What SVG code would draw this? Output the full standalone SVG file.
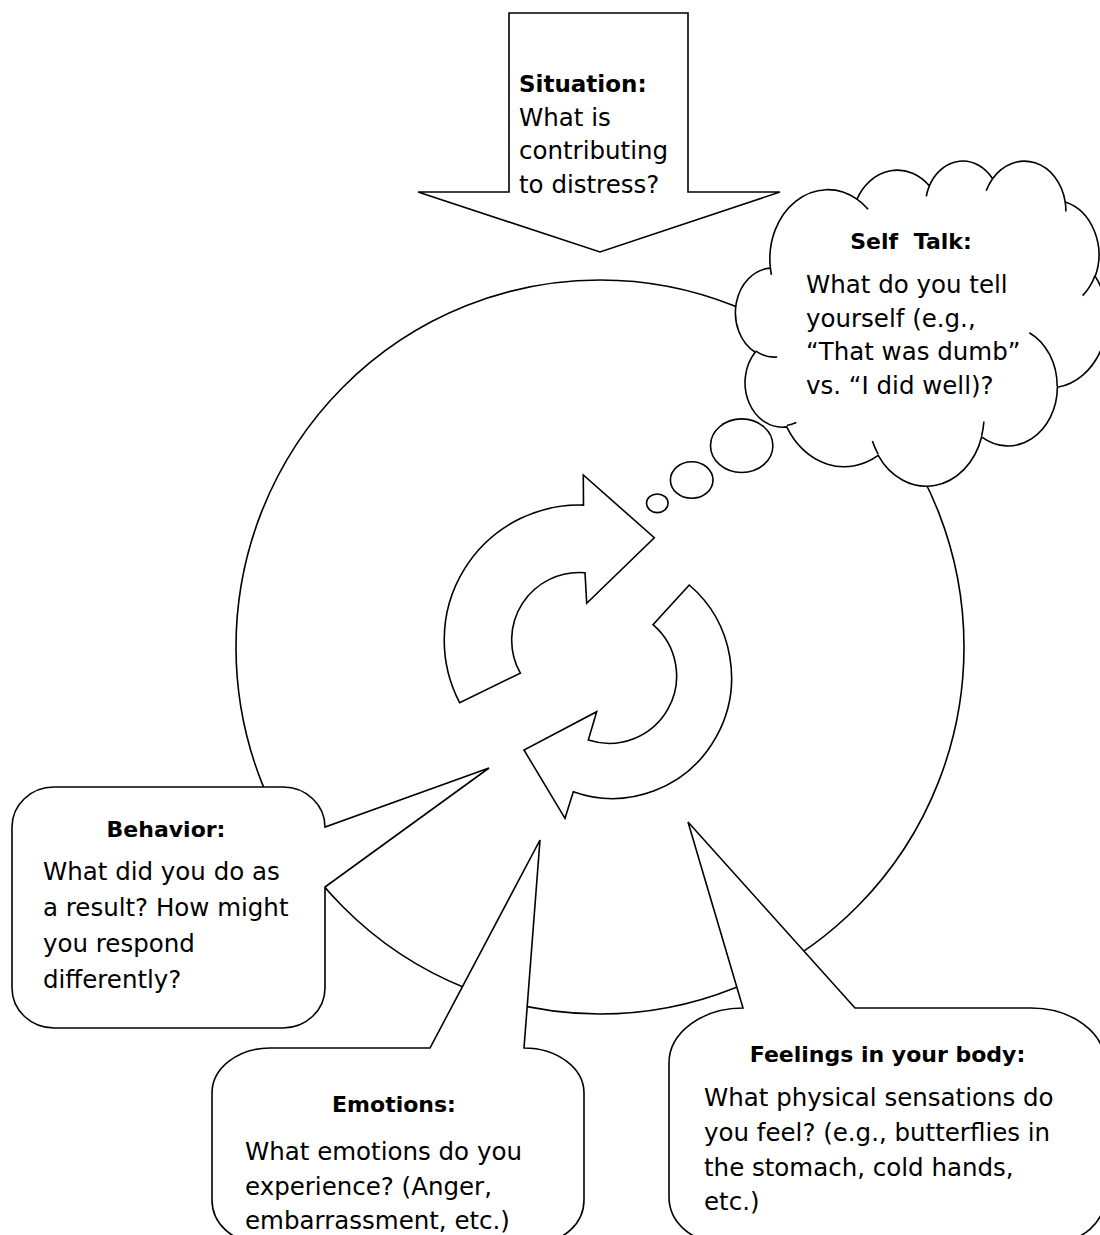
<svg xmlns="http://www.w3.org/2000/svg" width="1100" height="1235" viewBox="0 0 1100 1235">
<style>
  .s{fill:#fff;stroke:#000;stroke-width:1.6;stroke-linejoin:miter}
  .ln{fill:none;stroke:#000;stroke-width:1.6}
  text{font-family:"DejaVu Sans",sans-serif;font-size:24.5px;fill:#000}
  .h{font-weight:bold;font-size:22px}
  .c{text-anchor:middle}
</style>
<rect width="1100" height="1235" fill="#fff"/>
<g id="cycle-circle">
  <ellipse class="s" cx="600" cy="647" rx="364" ry="367"/>
</g>
<g id="cycle-arrows">
  <path class="s" d="M 459.7 702.8 A 135 135 0 0 1 583.5 505.1 L 583.3 475 L 654.3 537.7 L 586.7 603.3 L 585 572.75 A 67.5 67.5 0 0 0 520.35 673.1 Z"/>
  <path class="s" d="M 689.3 585 L 653 624.6 A 67.5 67.5 0 0 1 588.3 740.1 L 596.7 711.7 L 524 750 L 565 818.3 L 573.3 791.7 A 119 121 0 0 0 689.3 585 Z"/>
</g>
<g id="self-talk">
  <ellipse class="s" cx="657.3" cy="503.3" rx="10.8" ry="9.3"/>
  <ellipse class="s" cx="691.7" cy="480" rx="21.3" ry="18.3"/>
  <ellipse class="s" cx="741.7" cy="445.7" rx="31.2" ry="26.8"/>
  <path class="s" d="M 770.40 268.11 A 57.84 69.14 0 0 1 856.96 199.14 A 45.68 54.67 0 0 1 929.36 185.83 A 37.39 44.72 0 0 1 992.55 178.68 A 41.60 49.61 0 0 1 1065.22 201.98 A 45.68 54.72 0 0 1 1095.20 276.34 A 58.03 69.36 0 0 1 1057.39 387.23 A 49.55 59.18 0 0 1 981.60 436.96 A 57.83 69.33 0 0 1 878.17 455.42 A 66.12 79.32 0 0 1 786.74 426.89 A 37.34 44.52 0 0 1 755.14 352.23 A 37.21 44.72 0 0 1 770.40 268.11 Z"/>
  <path class="ln" d="M 777.19 356.93 A 37.21 44.72 0 0 1 755.49 350.93 M 796.34 422.55 A 37.34 44.52 0 0 1 786.84 425.42 M 878.13 454.08 A 57.83 69.33 0 0 1 872.41 440.98 M 983.90 421.44 A 57.83 69.33 0 0 1 981.62 435.79 M 1029.31 332.69 A 49.55 59.18 0 0 1 1057.16 386.37 M 1094.99 275.51 A 45.68 54.72 0 0 1 1082.58 295.65 M 1065.22 201.98 A 41.60 49.61 0 0 1 1065.87 211.47 M 986.19 190.82 A 41.60 49.61 0 0 1 992.55 178.68 M 926.28 196.29 A 37.39 44.72 0 0 1 929.36 185.83 M 856.96 199.14 A 57.84 69.14 0 0 1 868.09 209.28 M 771.45 274.81 A 57.84 69.14 0 0 1 770.40 268.11"/>
  <text class="h c" x="911" y="249" style="word-spacing:8px">Self Talk:</text>
  <text x="806" y="293">What do you tell</text>
  <text x="806" y="326.5">yourself (e.g.,</text>
  <text x="806" y="360">“That was dumb”</text>
  <text x="806" y="393.5">vs. “I did well)?</text>
</g>
<g id="situation">
  <polygon class="s" points="509,13 688,13 688,192 780,192 600,252 418,192 509,192"/>
  <text x="519" y="92" style="font-weight:bold;font-size:23px">Situation:</text>
  <text x="519" y="125.5">What is</text>
  <text x="519" y="159">contributing</text>
  <text x="519" y="192.5">to distress?</text>
</g>
<g id="behavior">
  <path class="s" d="M 54 787 H 283 A 42 40 0 0 1 325 827 L 489 768 L 325 887 V 988 A 42 40 0 0 1 283 1028 H 54 A 42 40 0 0 1 12 988 V 827 A 42 40 0 0 1 54 787 Z"/>
  <text class="h c" x="166" y="837">Behavior:</text>
  <text x="43" y="880">What did you do as</text>
  <text x="43" y="916">a result? How might</text>
  <text x="43" y="952">you respond</text>
  <text x="43" y="988">differently?</text>
</g>
<g id="emotions">
  <path class="s" d="M 270 1048 H 430 L 540 840 L 524 1048 A 60 45 0 0 1 584 1093 V 1200 A 45 42 0 0 1 539 1242 H 257 A 45 42 0 0 1 212 1200 V 1093 A 58 45 0 0 1 270 1048 Z"/>
  <text class="h c" x="394" y="1112">Emotions:</text>
  <text x="245" y="1160">What emotions do you</text>
  <text x="245" y="1195">experience? (Anger,</text>
  <text x="245" y="1229">embarrassment, etc.)</text>
</g>
<g id="feelings">
  <path class="s" d="M 743 1008 L 688 822 L 855 1008 H 1031 A 74 55 0 0 1 1105 1063 V 1197 A 50 45 0 0 1 1055 1242 H 719 A 50 45 0 0 1 669 1197 V 1063 A 74 55 0 0 1 743 1008 Z"/>
  <text class="h c" x="887.5" y="1062">Feelings in your body:</text>
  <text x="704" y="1106">What physical sensations do</text>
  <text x="704" y="1141">you feel? (e.g., butterflies in</text>
  <text x="704" y="1176">the stomach, cold hands,</text>
  <text x="704" y="1210">etc.)</text>
</g>
</svg>
